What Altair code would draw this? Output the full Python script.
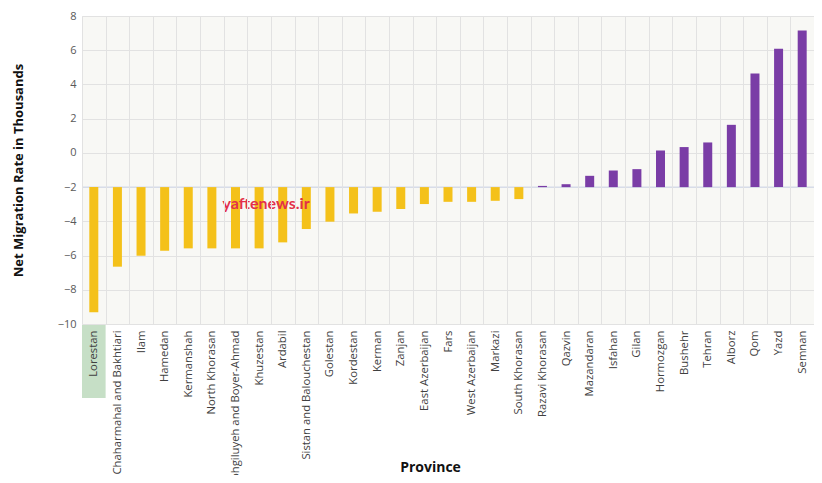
import altair as alt
import pandas as pd

provinces = [
    "Lorestan", "Chaharmahal and Bakhtiari", "Ilam", "Hamedan", "Kermanshah",
    "North Khorasan", "Kohgiluyeh and Boyer-Ahmad", "Khuzestan", "Ardabil",
    "Sistan and Balouchestan", "Golestan", "Kordestan", "Kerman", "Zanjan",
    "East Azerbaijan", "Fars", "West Azerbaijan", "Markazi", "South Khorasan",
    "Razavi Khorasan", "Qazvin", "Mazandaran", "Isfahan", "Gilan", "Hormozgan",
    "Bushehr", "Tehran", "Alborz", "Qom", "Yazd", "Semnan",
]
values = [
    -9.31, -6.65, -6.01, -5.72, -5.58, -5.58, -5.58, -5.58, -5.23,
    -4.45, -4.02, -3.54, -3.44, -3.28, -2.99, -2.86, -2.86, -2.80, -2.70,
    -1.93, -1.83, -1.34, -1.03, -0.95, 0.14, 0.34, 0.61, 1.64, 4.64, 6.08, 7.15,
]
baseline = -2
y_ticks = [-10, -8, -6, -4, -2, 0, 2, 4, 6, 8]
highlighted = "Lorestan"
watermark = "yaftenews.ir"
watermark_y = -3

df = pd.DataFrame({"Province": provinces, "Value": values})
df["Base"] = baseline
df["Mark"] = watermark_y
df["Group"] = ["above" if v > baseline else "below" for v in values]

FONT = "Open Sans"

x_axis = alt.Axis(
    title="Province", titleFont=FONT, titleFontSize=14, titleFontWeight="bold",
    titleColor="#111111", titleX=348, titleY=143, titleAlign="center",
    titleBaseline="middle",
    labelAngle=-90, labelFont=FONT, labelFontSize=11.3, labelColor="#404040",
    labelPadding=6, labelLimit=400, labelOverlap=False, ticks=False, domain=False,
    grid=True, gridColor="#E2E2E2", tickBand="extent", zindex=1,
)
X = alt.X("Province:N", sort=None,
          scale=alt.Scale(paddingInner=0, paddingOuter=0), axis=x_axis)

y_axis = alt.Axis(
    title="Net Migration Rate in Thousands", titleFont=FONT, titleFontSize=13,
    titleFontWeight="bold", titleColor="#111111", titleX=-64, titleY=154,
    titleAlign="center", titleBaseline="middle", titleAngle=-90,
    values=y_ticks, labelFont=FONT, labelFontSize=11, labelColor="#595959",
    labelPadding=6, labelOverlap=False, ticks=False, domain=False,
    grid=True, gridColor="#E2E2E2",
)
y_scale = alt.Scale(domain=[-10, 8], nice=False)

base = alt.Chart(df)

highlight = base.transform_filter(alt.datum.Province == highlighted).mark_rect(
    color="#C6DFC6", clip=False
).encode(x=X, y=alt.value(309), y2=alt.value(382))

bars = base.mark_bar(size=9).encode(
    x=X, y=alt.Y("Value:Q", scale=y_scale, axis=y_axis), y2="Base:Q",
    color=alt.Color("Group:N", scale=alt.Scale(domain=["below", "above"],
                                               range=["#F4C11A", "#7A3DA6"]),
                    legend=None),
)

rule = base.transform_filter(alt.datum.Province == highlighted).mark_rule(
    color="#D3DAEA", strokeWidth=1.2
).encode(y=alt.Y("Base:Q", scale=y_scale, axis=y_axis))

mark_text = base.transform_filter(alt.datum.Province == "Khuzestan").mark_text(
    text=watermark, font="Lato", fontSize=16, fontWeight="bold", color="#E3304A", dx=7
).encode(x=X, y=alt.Y("Mark:Q", scale=y_scale, axis=y_axis))

chart = alt.layer(rule, highlight, bars, mark_text).properties(
    width=732, height=308,
    autosize=alt.AutoSizeParams(type="none"),
    padding={"left": 74, "top": 8, "right": 0, "bottom": 151},
    background="white",
).configure_view(fill="#F8F8F5", stroke="#E2E2E2")

chart.save("out.html", embed_options={"renderer": "svg", "actions": False})
